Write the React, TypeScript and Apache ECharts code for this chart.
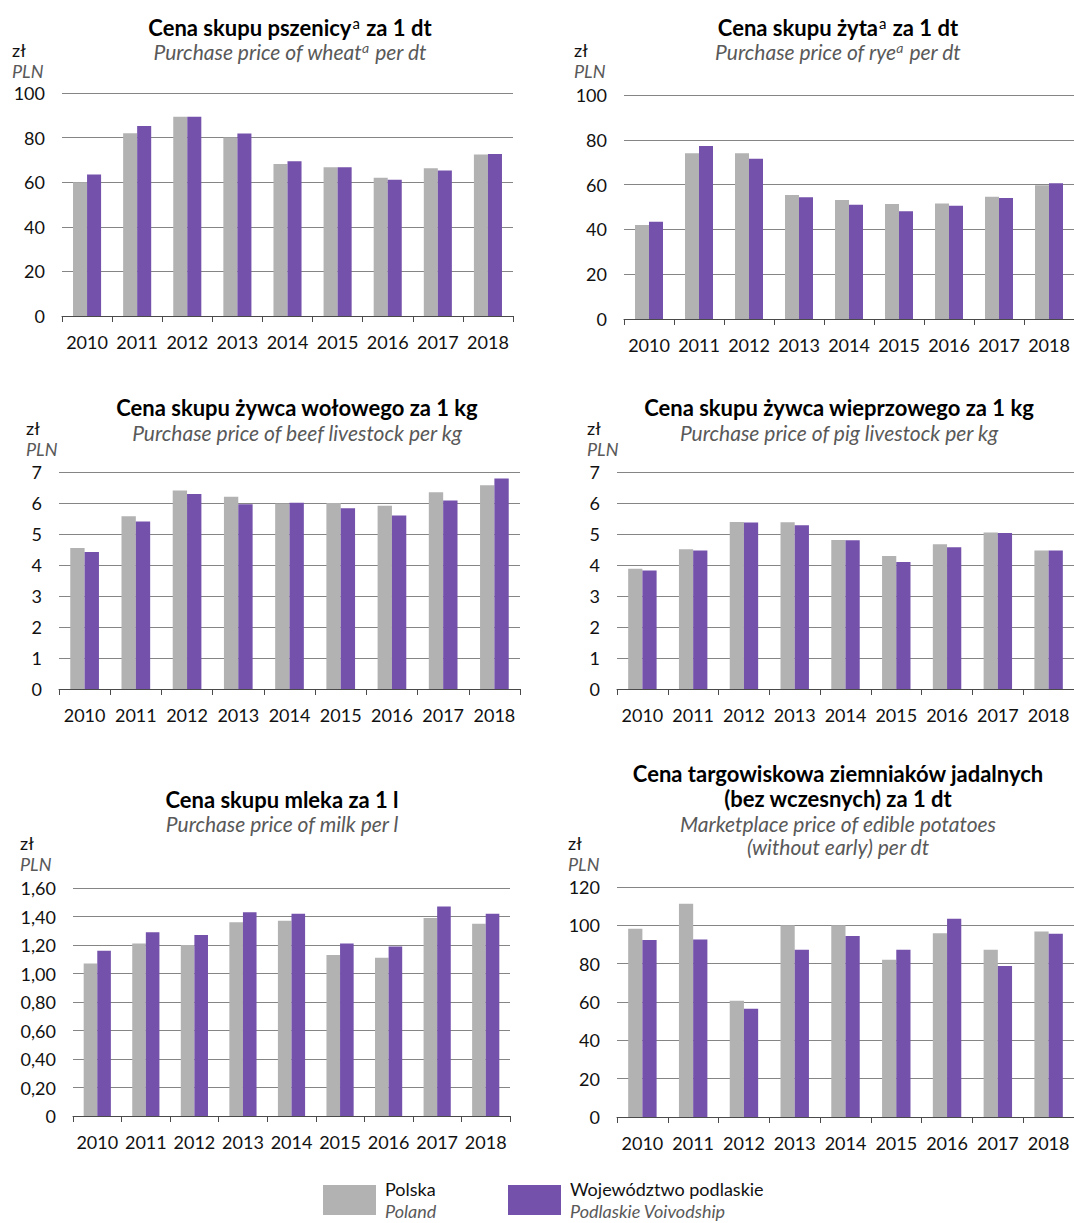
import React, { useEffect, useRef } from "react";
import * as echarts from "echarts";

const years = ["2010", "2011", "2012", "2013", "2014", "2015", "2016", "2017", "2018"];
const seriesNames = ["Polska", "Województwo podlaskie"];
const seriesNamesEn = ["Poland", "Podlaskie Voivodship"];

const wheatPL = [60, 82, 89.3, 80, 68.2, 66.7, 62, 66.3, 72.4];
const wheatPD = [63.4, 85.2, 89.3, 81.8, 69.4, 66.7, 61.1, 65.2, 72.6];
const ryePL = [42, 74, 74, 55.4, 53.1, 51.3, 51.6, 54.6, 59.7];
const ryePD = [43.4, 77.2, 71.5, 54.3, 51, 48.1, 50.6, 54, 60.6];
const beefPL = [4.55, 5.57, 6.4, 6.2, 5.98, 6.0, 5.91, 6.35, 6.57];
const beefPD = [4.42, 5.4, 6.29, 5.96, 6.01, 5.83, 5.6, 6.08, 6.79];
const pigPL = [3.88, 4.51, 5.39, 5.38, 4.81, 4.29, 4.67, 5.05, 4.47];
const pigPD = [3.82, 4.47, 5.37, 5.28, 4.8, 4.1, 4.57, 5.03, 4.47];
const milkPL = [1.07, 1.21, 1.2, 1.36, 1.37, 1.13, 1.11, 1.39, 1.35];
const milkPD = [1.16, 1.29, 1.27, 1.43, 1.42, 1.21, 1.19, 1.47, 1.42];
const potPL = [98.2, 111.3, 60.7, 100.1, 100.1, 82, 95.9, 87.2, 96.8];
const potPD = [92.3, 92.6, 56.5, 87.2, 94.5, 87.2, 103.4, 78.8, 95.6];

// y-axis scales
const yMax = [100, 100, 7, 7, 1.6, 120];
const yInterval = [20, 20, 1, 1, 0.2, 20];
const yDecimals = [0, 0, 0, 0, 2, 0];

const titlesPL = [
  "Cena skupu pszenicy{sup|a} za 1 dt",
  "Cena skupu żyta{sup|a} za 1 dt",
  "Cena skupu żywca wołowego za 1 kg",
  "Cena skupu żywca wieprzowego za 1 kg",
  "Cena skupu mleka za 1 l",
  "Cena targowiskowa ziemniaków jadalnych\n(bez wczesnych) za 1 dt",
];
const titlesEN = [
  "Purchase price of wheat{sup|a} per dt",
  "Purchase price of rye{sup|a} per dt",
  "Purchase price of beef livestock per kg",
  "Purchase price of pig livestock per kg",
  "Purchase price of milk per l",
  "Marketplace price of edible potatoes\n(without early) per dt",
];

const GRAY = "#b2b2b2";
const PURPLE = "#7451ab";
const FONT = "Lato";

export default function App() {
  const ref = useRef<HTMLDivElement>(null);
  useEffect(() => {
    if (!ref.current) return;
    const chart = echarts.init(ref.current, null, { renderer: "svg" });

    const grids = [
      { left: 62, top: 93, width: 451, height: 223 },
      { left: 624, top: 95, width: 450, height: 224 },
      { left: 59, top: 472, width: 461, height: 217 },
      { left: 617, top: 472, width: 457, height: 217 },
      { left: 73, top: 888, width: 437, height: 228 },
      { left: 617, top: 887, width: 457, height: 230 },
    ];
    const data = [
      [wheatPL, wheatPD],
      [ryePL, ryePD],
      [beefPL, beefPD],
      [pigPL, pigPD],
      [milkPL, milkPD],
      [potPL, potPD],
    ];
    const titlePos = [
      { x: 290, y: 27, sy: 51 },
      { x: 838, y: 27, sy: 51 },
      { x: 297, y: 407, sy: 432 },
      { x: 839, y: 407, sy: 432 },
      { x: 282, y: 799, sy: 823 },
      { x: 838, y: 786, sy: 835 },
    ];
    const unitPos = [
      { x: 12, y: 50 },
      { x: 574, y: 50 },
      { x: 26, y: 428 },
      { x: 587, y: 428 },
      { x: 20, y: 843 },
      { x: 568, y: 843 },
    ];

    const xAxis = grids.map((_, i) => ({
      type: "category",
      gridIndex: i,
      data: years,
      axisLine: { show: true, lineStyle: { color: "#4a4a4a", width: 1 } },
      axisTick: { show: true, length: 6, interval: 0, alignWithLabel: false, lineStyle: { color: "#4a4a4a" } },
      axisLabel: { fontFamily: FONT, fontSize: 18, color: "#111", margin: 17, interval: 0 },
      splitLine: { show: false },
    }));
    const yAxis = grids.map((_, i) => ({
      type: "value",
      gridIndex: i,
      min: 0,
      max: yMax[i],
      interval: yInterval[i],
      axisLine: { show: false },
      axisTick: { show: false },
      splitLine: { show: true, lineStyle: { color: "#858585", width: 1.2 } },
      axisLabel: {
        fontFamily: FONT,
        fontSize: 18,
        color: "#111",
        margin: 17,
        formatter: (v: number) =>
          v === 0 ? "0" : yDecimals[i] ? v.toFixed(yDecimals[i]).replace(".", ",") : String(Math.round(v)),
      },
    }));
    const series: any[] = [];
    data.forEach((pair, i) => {
      pair.forEach((vals, k) => {
        series.push({
          type: "bar",
          name: seriesNames[k],
          xAxisIndex: i,
          yAxisIndex: i,
          data: vals,
          barGap: "0%",
          barCategoryGap: "44%",
          itemStyle: { color: k === 0 ? GRAY : PURPLE },
        });
      });
    });

    const graphics: any[] = [];
    titlePos.forEach((p, i) => {
      graphics.push({
        type: "text",
        x: p.x,
        y: p.y,
        style: {
          text: titlesPL[i],
          align: "center",
          verticalAlign: "middle",
          fontFamily: FONT,
          fontSize: 22,
          fontWeight: "bold",
          fill: "#000",
          lineHeight: 25,
          rich: {
            sup: {
              fontFamily: FONT,
              fontSize: 15,
              fontWeight: "normal",
              fill: "#000",
              lineHeight: 25,
              padding: [0, 1, 8, 1],
            },
          },
        },
      });
      graphics.push({
        type: "text",
        x: p.x,
        y: p.sy,
        style: {
          text: titlesEN[i],
          align: "center",
          verticalAlign: "middle",
          fontFamily: FONT,
          fontSize: 21,
          fontStyle: "italic",
          fill: "#595959",
          lineHeight: 23,
          rich: {
            sup: {
              fontFamily: FONT,
              fontSize: 14,
              fontStyle: "italic",
              fill: "#595959",
              lineHeight: 16,
              padding: [0, 1, 7, 0],
            },
          },
        },
      });
    });
    unitPos.forEach((p) => {
      graphics.push({
        type: "text",
        x: p.x,
        y: p.y,
        style: { text: "zł", align: "left", verticalAlign: "middle", fontFamily: FONT, fontSize: 18, fill: "#111" },
      });
      graphics.push({
        type: "text",
        x: p.x,
        y: p.y + 21,
        style: {
          text: "PLN",
          align: "left",
          verticalAlign: "middle",
          fontFamily: FONT,
          fontSize: 18,
          fontStyle: "italic",
          fill: "#595959",
        },
      });
    });

    chart.setOption({
      animation: false,
      backgroundColor: "#fff",
      grid: grids,
      xAxis,
      yAxis,
      series,
      graphic: graphics,
      legend: {
        left: 318,
        top: 1175,
        itemWidth: 53,
        itemHeight: 30,
        itemGap: 11,
        icon: "rect",
        data: seriesNames,
        formatter: (name: string) => `{a|${name}}\n{b|${seriesNamesEn[seriesNames.indexOf(name)]}}`,
        textStyle: {
          rich: {
            a: { fontFamily: FONT, fontSize: 18, color: "#111", lineHeight: 22, width: 112, padding: [0, 0, 0, 4] },
            b: {
              fontFamily: FONT,
              fontSize: 18,
              fontStyle: "italic",
              color: "#595959",
              lineHeight: 22,
              width: 112,
              padding: [0, 0, 0, 4],
            },
          },
        },
      },
    });
    return () => chart.dispose();
  }, []);
  return <div ref={ref} style={{ position: "absolute", left: 0, top: 0, width: 1074, height: 1223 }} />;
}
